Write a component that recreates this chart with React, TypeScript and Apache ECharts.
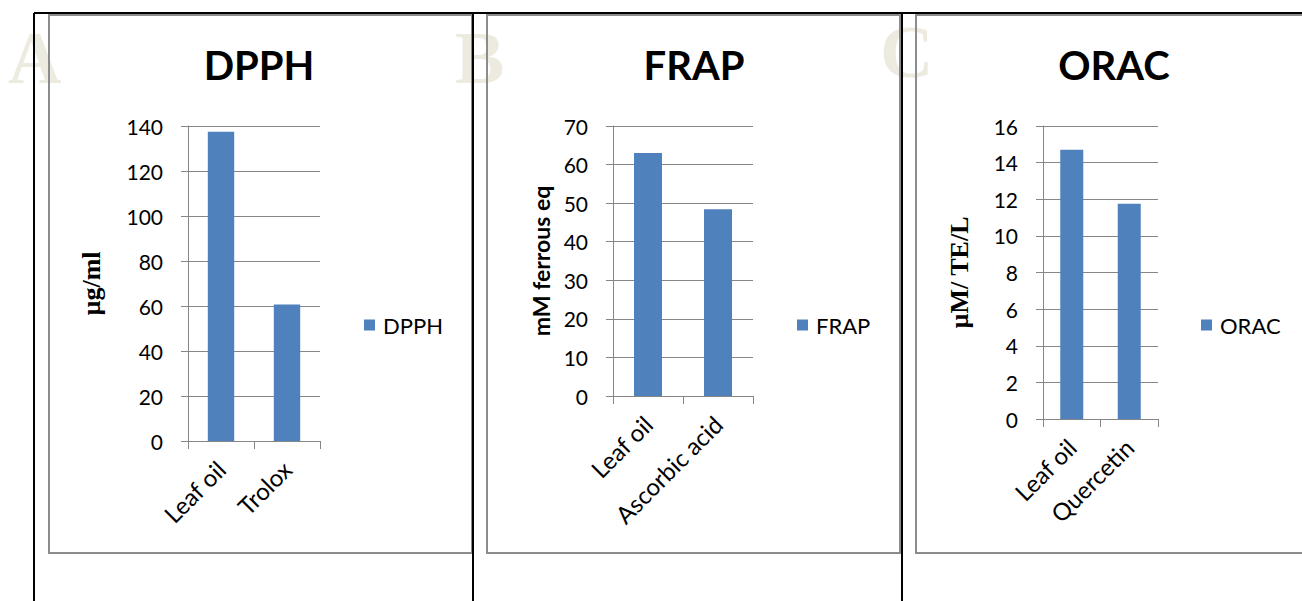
import React, { useEffect, useRef } from "react";
import * as echarts from "echarts";

// ---- data ----
const seriesNames = ["DPPH", "FRAP", "ORAC"];
const categoriesA = ["Leaf oil", "Trolox"];
const valuesA = [137.5, 60.7];
const categoriesB = ["Leaf oil", "Ascorbic acid"];
const valuesB = [63.0, 48.4];
const categoriesC = ["Leaf oil", "Quercetin"];
const valuesC = [14.7, 11.75];
const yMax = [140, 70, 16];
const yInterval = [20, 10, 2];
const yNames = ["µg/ml", "mM ferrous eq", "µM/ TE/L"];
const panelLetters = ["A", "B", "C"];

const BAR = "#4F81BD";
const GRID = "#868686";
const SANS = "Lato, 'Open Sans', sans-serif";
const SERIF = "'Liberation Serif', 'DejaVu Serif', serif";

export default function App() {
  const ref = useRef<HTMLDivElement>(null);
  useEffect(() => {
    if (!ref.current) return;
    const chart = echarts.init(ref.current, null, { renderer: "svg" });

    const grids = [
      { left: 188, top: 126, width: 132, height: 315 },
      { left: 613, top: 126, width: 140, height: 270 },
      { left: 1043, top: 126, width: 115, height: 293 },
    ];
    const cats = [categoriesA, categoriesB, categoriesC];
    const vals = [valuesA, valuesB, valuesC];
    const nameGaps = [84, 61, 71];
    const nameFonts = [
      { fontFamily: SERIF, fontWeight: "bold", fontSize: 26 },
      { fontFamily: SANS, fontWeight: "bold", fontSize: 23 },
      { fontFamily: SERIF, fontWeight: "bold", fontSize: 26 },
    ];
    const legendLeft = [364, 797, 1201];
    const titleX = [259, 694, 1114];
    const letterX = [8, 455, 880];
    const letterY = [95, 95, 89];

    const graphic: any[] = [];
    // big letters (underneath frames)
    panelLetters.forEach((l, i) => {
      graphic.push({
        type: "text",
        x: letterX[i],
        y: letterY[i],
        z: 0,
        style: {
          text: l,
          fontFamily: SERIF,
          fontWeight: "bold",
          fontSize: 74,
          fill: "#EDEBE0",
          textAlign: "left",
          textVerticalAlign: "bottom",
          align: "left",
          verticalAlign: "bottom",
        },
      });
    });
    // gray panel borders
    const panels = [
      [49, 15, 472, 553],
      [487, 15, 900, 553],
      [916, 15, 1303, 553],
    ];
    panels.forEach((p) => {
      graphic.push({
        type: "rect",
        z: 1,
        shape: { x: p[0], y: p[1], width: p[2] - p[0], height: p[3] - p[1] },
        style: { fill: "none", stroke: "#8C8C8C", lineWidth: 2 },
      });
    });
    // black frame lines
    const blackLines = [
      [34, 13, 1302, 13],
      [34, 13, 34, 601],
      [473, 13, 473, 601],
      [902, 13, 902, 601],
    ];
    blackLines.forEach((l) => {
      graphic.push({
        type: "line",
        z: 2,
        shape: { x1: l[0], y1: l[1], x2: l[2], y2: l[3] },
        style: { stroke: "#000", lineWidth: 2 },
      });
    });
    // titles
    seriesNames.forEach((t, i) => {
      graphic.push({
        type: "text",
        x: titleX[i],
        y: 85,
        z: 3,
        style: {
          text: t,
          fontFamily: SANS,
          fontWeight: "bold",
          fontSize: 40,
          fill: "#000",
          textAlign: "center",
          textVerticalAlign: "bottom",
          align: "center",
          verticalAlign: "bottom",
        },
      });
    });

    const option: any = {
      animation: false,
      backgroundColor: "#fff",
      grid: grids.map((g) => ({ ...g, containLabel: false })),
      legend: seriesNames.map((n, i) => ({
        data: [n],
        left: legendLeft[i],
        top: 314,
        icon: "rect",
        itemWidth: 11,
        itemHeight: 11,
        padding: 0,
        textStyle: { fontFamily: SANS, fontSize: 22, color: "#000", padding: [0, 0, 0, 3] },
      })),
      xAxis: cats.map((c, i) => ({
        type: "category",
        gridIndex: i,
        data: c,
        boundaryGap: true,
        axisLine: { show: true, lineStyle: { color: GRID, width: 1 } },
        axisTick: { show: true, length: 8, lineStyle: { color: GRID } },
        axisLabel: {
          rotate: 45,
          margin: 24,
          fontFamily: SANS,
          fontSize: 24,
          color: "#000",
          interval: 0,
        },
        splitLine: { show: false },
      })),
      yAxis: vals.map((_, i) => ({
        type: "value",
        gridIndex: i,
        min: 0,
        max: yMax[i],
        interval: yInterval[i],
        name: yNames[i],
        nameLocation: "middle",
        nameRotate: 90,
        nameGap: nameGaps[i],
        nameTextStyle: { color: "#000", ...nameFonts[i] },
        axisLine: { show: true, lineStyle: { color: GRID, width: 1 } },
        axisTick: { show: true, length: 7, lineStyle: { color: GRID } },
        axisLabel: {
          margin: 25,
          fontFamily: SANS,
          fontSize: 21,
          color: "#000",
        },
        splitLine: { show: true, lineStyle: { color: GRID, width: 1 } },
      })),
      series: vals.map((v, i) => ({
        type: "bar",
        name: seriesNames[i],
        xAxisIndex: i,
        yAxisIndex: i,
        data: v,
        barWidth: "40%",
        itemStyle: { color: BAR },
      })),
      graphic,
    };
    chart.setOption(option);
    return () => chart.dispose();
  }, []);

  return (
    <div
      ref={ref}
      style={{ position: "absolute", left: 0, top: 0, width: 1302, height: 601 }}
    />
  );
}
